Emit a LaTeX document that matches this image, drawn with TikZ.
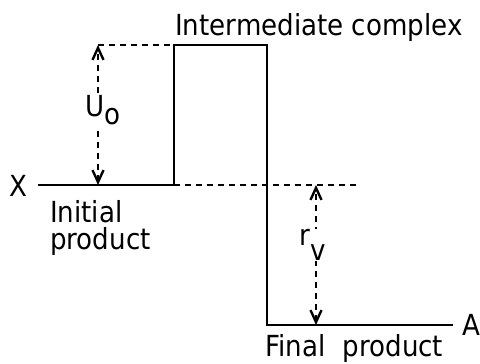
\documentclass[tikz,border=0pt]{standalone}
\usepackage{fontspec}
\setmainfont[FakeStretch=0.9]{DejaVu Sans}
\usetikzlibrary{arrows.meta}
\begin{document}
\begin{tikzpicture}[x=1pt,y=-1pt,
  level/.style={line width=2.6pt},
  guide/.style={line width=2pt, dash pattern=on 6pt off 5pt},
  gaparrow/.style={line width=2pt, dash pattern=on 6pt off 5pt,
    {Straight Barb[length=12pt,width=11pt,line width=2.4pt]}-{Straight Barb[length=12pt,width=11pt,line width=2.4pt]}},
  lbl/.style={font=\fontsize{29}{27}\selectfont, inner sep=0pt},
  gaplbl/.style={font=\fontsize{29}{26}\selectfont, inner sep=1pt, fill=white}
]
\useasboundingbox (0,0) rectangle (480,364);
\coordinate (x0) at (38,185);
\coordinate (b1) at (174,185);
\coordinate (t1) at (174,45);
\coordinate (t2) at (267,45);
\coordinate (b2) at (267,325);
\coordinate (a0) at (453,325);
\coordinate (u1) at (98,45);
\coordinate (u2) at (98,185);
\coordinate (m2) at (358,185);
\coordinate (r1) at (316,185);
\coordinate (r2) at (316,325);
\draw[level] (x0) -- (b1) -- (t1) -- (t2) -- (b2) -- (a0);
\draw[guide] (u1) -- (t1);
\draw[guide] (b1) -- (m2);
\draw[gaparrow] (u2) -- (u1);
\draw[gaparrow] (r2) -- (r1);
\node[gaplbl] (U) at (103,110) {U\raisebox{-0.3em}{o}};
\node[gaplbl] (R) at (313,245) {r\raisebox{-0.5em}{v}};
\node[lbl, anchor=base west] (ic) at (175,35) {Intermediate complex};
\node[lbl, anchor=base west] (X) at (9,196) {X};
\node[lbl, anchor=base west] (ip1) at (50,222) {Initial};
\node[lbl, anchor=base west] (ip2) at (50,249) {product};
\node[lbl, anchor=base west] (fp) at (265,356) {Final\hspace{0.6em}product};
\node[lbl, anchor=base west] (A) at (462,335) {A};
\end{tikzpicture}
\end{document}
